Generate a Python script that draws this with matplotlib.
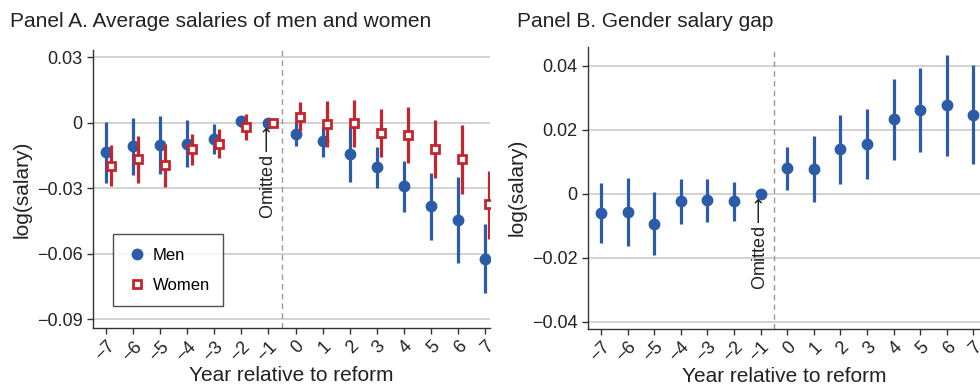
import numpy as np
import matplotlib
matplotlib.use('Agg')
import matplotlib.pyplot as plt

plt.rcParams['font.family'] = ['Liberation Sans', 'DejaVu Sans']

years = list(range(-7, 8))

# Panel A: point estimates and 95% CI bounds
men = [-0.0136, -0.0108, -0.0104, -0.0096, -0.0075, 0.0006, 0.0,
       -0.0052, -0.0085, -0.0142, -0.0203, -0.0292, -0.0383, -0.0447, -0.0623]
men_lo = [-0.0275, -0.024, -0.0235, -0.0203, -0.0145, -0.002, 0.0,
          -0.0105, -0.0159, -0.027, -0.0299, -0.0408, -0.0536, -0.0644, -0.0782]
men_hi = [0.0003, 0.002, 0.003, 0.001, -0.0006, 0.003, 0.0,
          0.0003, -0.0018, -0.0018, -0.011, -0.0177, -0.0232, -0.0247, -0.0464]

women = [-0.0197, -0.0168, -0.0195, -0.0122, -0.0096, -0.0021, 0.0,
         0.0027, -0.0008, -0.0003, -0.0047, -0.0058, -0.0119, -0.0166, -0.0374]
women_lo = [-0.029, -0.0275, -0.0293, -0.0192, -0.016, -0.0079, 0.0,
            -0.0037, -0.011, -0.011, -0.0156, -0.0185, -0.0252, -0.0325, -0.0531]
women_hi = [-0.0102, -0.0061, -0.0096, -0.0052, -0.0029, 0.004, 0.0,
            0.0093, 0.0098, 0.0104, 0.0063, 0.007, 0.0012, -0.0011, -0.0223]

# Panel B: gender gap
gap = [-0.0061, -0.0056, -0.0093, -0.0024, -0.002, -0.0022, 0.0,
       0.0079, 0.0077, 0.0139, 0.0156, 0.0233, 0.0261, 0.0277, 0.0247]
gap_lo = [-0.0155, -0.0164, -0.0192, -0.0095, -0.0088, -0.0084, 0.0,
          0.0011, -0.0027, 0.003, 0.0047, 0.0105, 0.0129, 0.0119, 0.0092]
gap_hi = [0.0032, 0.005, 0.0006, 0.0046, 0.0046, 0.0038, 0.0,
          0.0145, 0.018, 0.0245, 0.0266, 0.0359, 0.0393, 0.0434, 0.0401]

a_ticks = [0.03, 0, -0.03, -0.06, -0.09]
a_labels = ['0.03', '0', '\u22120.03', '\u22120.06', '\u22120.09']
b_ticks = [0.04, 0.02, 0, -0.02, -0.04]
b_labels = ['0.04', '0.02', '0', '\u22120.02', '\u22120.04']

BLUE = '#2b5ca8'
RED = '#c4262e'
GRID = '#cfcfcf'
TXT = '#222222'


def style_axis(ax, yticks, ylabels):
    for s in ['top', 'right']:
        ax.spines[s].set_visible(False)
    for s in ['left', 'bottom']:
        ax.spines[s].set_color('#333333')
        ax.spines[s].set_linewidth(1.0)
    ax.set_yticks(yticks)
    ax.set_yticklabels(ylabels)
    ax.set_xticks(years)
    ax.set_xticklabels([str(y).replace('-', '\u2212') for y in years],
                       rotation=45, ha='right', rotation_mode='anchor')
    ax.tick_params(axis='both', labelsize=13, colors='#333333',
                   labelcolor=TXT, length=4, width=1.0, direction='out')
    ax.tick_params(axis='x', pad=3)
    ax.yaxis.grid(True, color=GRID, linewidth=1.3)
    ax.set_axisbelow(True)
    ax.axvline(-0.5, color='#999999', linestyle=(0, (4, 3)), linewidth=1.0)
    ax.set_ylabel('log(salary)', fontsize=15, color=TXT, labelpad=4)
    ax.set_xlabel('Year relative to reform', fontsize=15, color=TXT, labelpad=1)


fig = plt.figure(figsize=(9.8, 3.86), dpi=100)
axA = fig.add_axes([0.0949, 0.150, 0.405, 0.720])
axB = fig.add_axes([0.600, 0.148, 0.400, 0.731])

x = np.array(years, dtype=float)
off = 0.17

# Panel A
axA.vlines(x, men_lo, men_hi, color=BLUE, linewidth=2.3, zorder=2)
axA.plot(x, men, 'o', color=BLUE, markersize=7.5, zorder=3, label='Men')
axA.vlines(x + off, women_lo, women_hi, color=RED, linewidth=2.3, zorder=4)
axA.plot(x + off, women, 's', color=RED, markerfacecolor='white',
         markeredgewidth=2.0, markersize=6.2, zorder=5, label='Women')
axA.set_xlim(-7.49, 7.19)
axA.set_ylim(-0.0941, 0.0332)
style_axis(axA, a_ticks, a_labels)
axA.text(-1, -0.0012, 'Omitted$\\longrightarrow$', rotation=90, ha='center',
         va='top', fontsize=13, color=TXT)
leg = axA.legend(loc='lower left', bbox_to_anchor=(0.05, 0.08), fontsize=12,
                 frameon=True, fancybox=False, edgecolor='#222222',
                 borderpad=0.8, labelspacing=0.9, handletextpad=0.3,
                 handlelength=1.3, borderaxespad=0)
leg.get_frame().set_linewidth(1.0)
axA.set_title('Panel A. Average salaries of men and women', fontsize=15,
              color=TXT, loc='left', x=-0.21, y=1.055)

# Panel B
axB.vlines(x, gap_lo, gap_hi, color=BLUE, linewidth=2.3, zorder=2)
axB.plot(x, gap, 'o', color=BLUE, markersize=7.5, zorder=3)
axB.set_xlim(-7.49, 7.25)
axB.set_ylim(-0.0422, 0.0459)
style_axis(axB, b_ticks, b_labels)
axB.text(-1, -0.001, 'Omitted$\\longrightarrow$', rotation=90, ha='center',
         va='top', fontsize=13, color=TXT)
axB.set_title('Panel B. Gender salary gap', fontsize=15, color=TXT,
              loc='left', x=-0.18, y=1.04)

fig.savefig('out.png', dpi=100)
